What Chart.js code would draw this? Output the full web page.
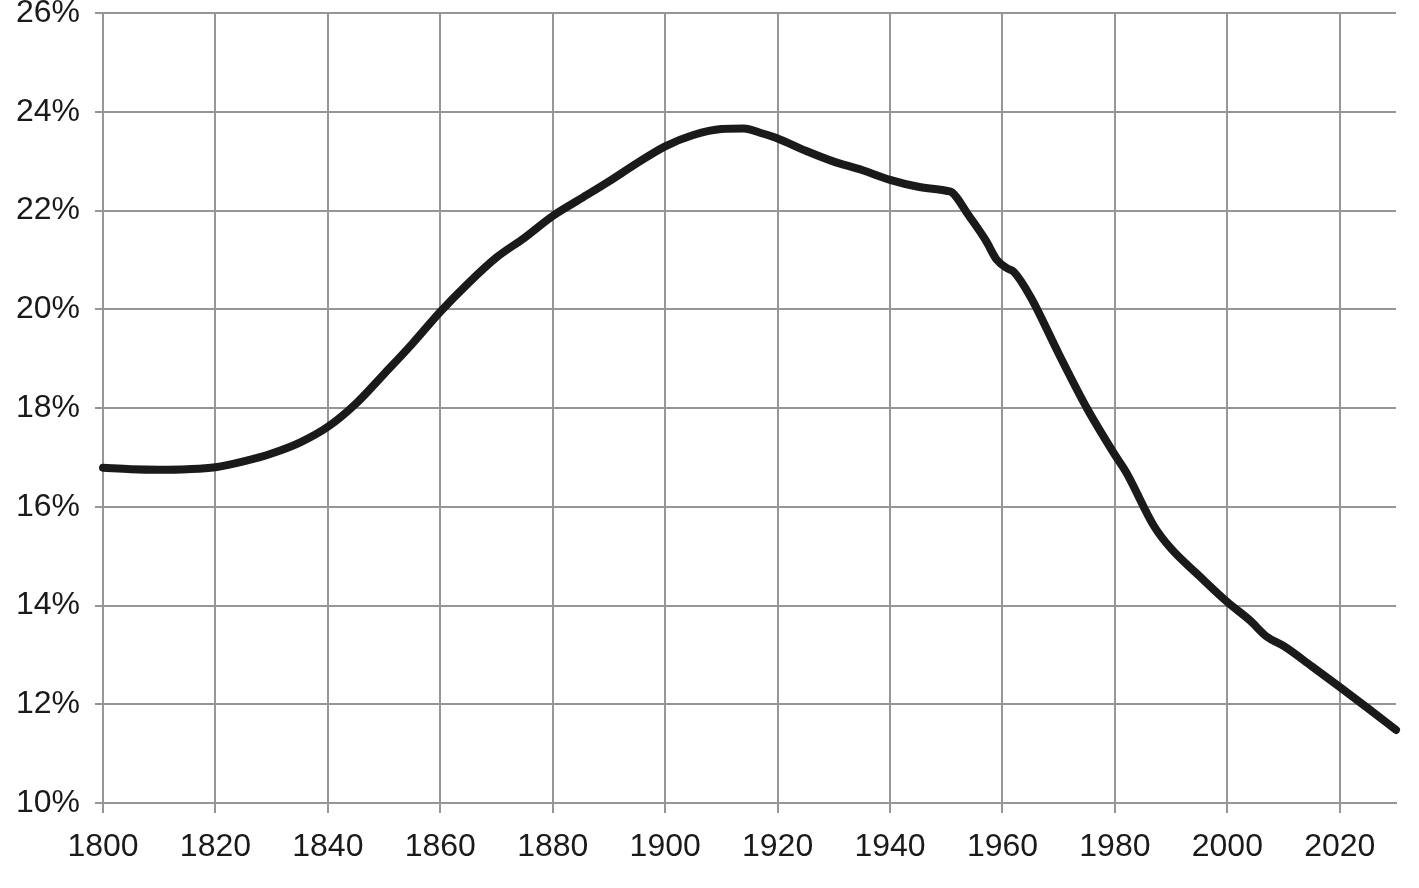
<!DOCTYPE html>
<html>
<head>
<meta charset="utf-8">
<script src="https://cdn.jsdelivr.net/npm/chart.js@4/dist/chart.umd.min.js"></script>
<style>
  html, body { margin: 0; padding: 0; background: #fff; }
  #wrap { width: 1419px; height: 888px; position: relative; }
</style>
</head>
<body>
<div id="wrap"><canvas id="shareChart"></canvas></div>
<script>
// years, values in percent
const years = [1800, 1805, 1810, 1815, 1820, 1825, 1830, 1835, 1840, 1845,
               1850, 1855, 1860, 1865, 1870, 1875, 1880, 1885, 1890, 1895,
               1900, 1905, 1910, 1914, 1917, 1920, 1925, 1930, 1935, 1940,
               1945, 1950, 1951, 1954, 1957, 1959, 1961, 1962, 1965, 1970,
               1975, 1980, 1982, 1987, 1990, 1995, 2000, 2004, 2007, 2010,
               2015, 2020, 2025, 2030];
const shares = [16.79, 16.76, 16.75, 16.76, 16.80, 16.92, 17.08, 17.30, 17.62, 18.09,
                18.69, 19.30, 19.95, 20.53, 21.05, 21.45, 21.89, 22.24, 22.59, 22.96,
                23.30, 23.53, 23.65, 23.66, 23.57, 23.46, 23.21, 22.99, 22.82, 22.62,
                22.48, 22.40, 22.37, 21.90, 21.40, 21.00, 20.82, 20.76, 20.25, 19.10,
                18.00, 17.05, 16.70, 15.60, 15.15, 14.60, 14.07, 13.70, 13.37, 13.18,
                12.77, 12.35, 11.92, 11.48];
const xTicks = [1800, 1820, 1840, 1860, 1880, 1900, 1920, 1940, 1960, 1980, 2000, 2020];
const yTicks = [10, 12, 14, 16, 18, 20, 22, 24, 26];

const gridGrey = "#969696";
const textFont = { family: "'Liberation Sans', Arial, Helvetica, sans-serif", size: 32 };

const points = years.map((y, i) => ({ x: y, y: shares[i] }));

const ctx = document.getElementById("shareChart").getContext("2d");
new Chart(ctx, {
    type: "line",
    data: {
        datasets: [{
            data: points,
            borderColor: "#1a1a1a",
            borderWidth: 8,
            borderCapStyle: "round",
            borderJoinStyle: "round",
            pointRadius: 0,
            fill: false,
            clip: false,
            cubicInterpolationMode: "monotone"
        }]
    },
    options: {
        responsive: true,
        maintainAspectRatio: false,
        animation: false,
        layout: { padding: { top: 13, right: 23, bottom: 0, left: 0 } },
        plugins: {
            legend: { display: false },
            tooltip: { enabled: false }
        },
        scales: {
            x: {
                type: "linear",
                min: 1800,
                max: 2030,
                afterBuildTicks: (scale) => { scale.ticks = xTicks.map(v => ({ value: v })); },
                afterFit: (scale) => {
                    scale.height = 85;
                    scale.paddingLeft = 0;
                    scale.paddingRight = 0;
                },
                ticks: {
                    color: "#1a1a1a",
                    font: textFont,
                    padding: 15,
                    maxRotation: 0,
                    callback: (v) => String(v)
                },
                grid: { color: gridGrey, lineWidth: 2, tickLength: 10 },
                border: { color: gridGrey, width: 2 }
            },
            y: {
                min: 10,
                max: 26,
                afterBuildTicks: (scale) => { scale.ticks = yTicks.map(v => ({ value: v })); },
                afterFit: (scale) => {
                    scale.width = 103;
                    scale.paddingTop = 0;
                    scale.paddingBottom = 0;
                },
                ticks: {
                    color: "#1a1a1a",
                    font: textFont,
                    padding: 15,
                    callback: (v) => v + "%"
                },
                grid: { color: gridGrey, lineWidth: 2, tickLength: 8 },
                border: { color: gridGrey, width: 2 }
            }
        }
    }
});
</script>
</body>
</html>
